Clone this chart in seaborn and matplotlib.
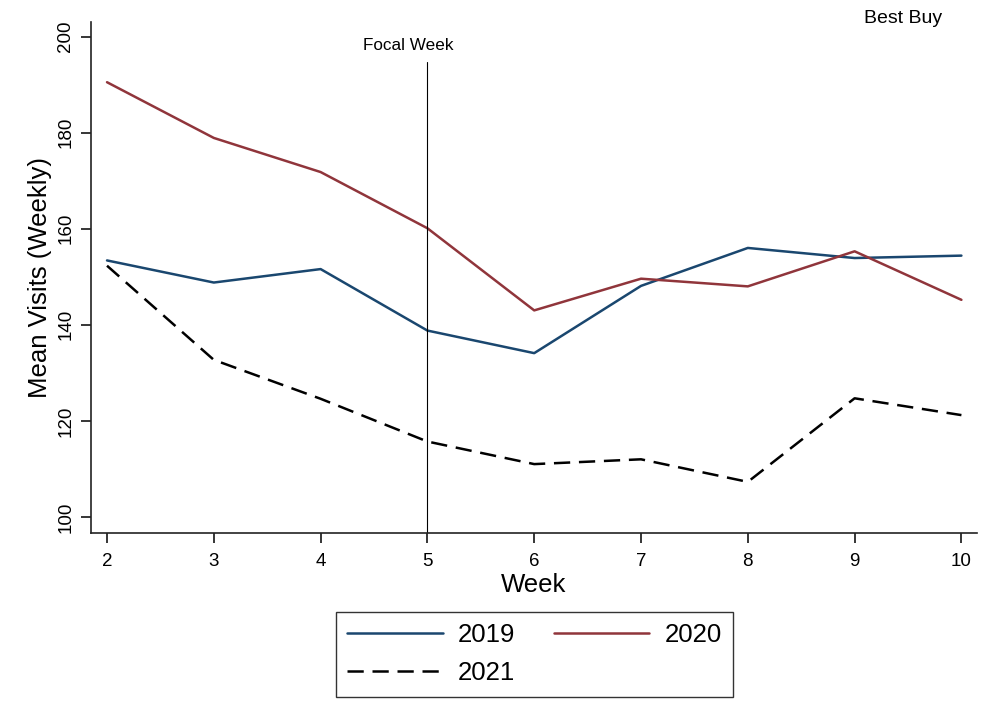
import pandas as pd
import numpy as np
import matplotlib
matplotlib.use("Agg")
import matplotlib.pyplot as plt
import seaborn as sns

# data
weeks = [2, 3, 4, 5, 6, 7, 8, 9, 10]
visits_2019 = [153.4, 148.8, 151.6, 138.8, 134.1, 148.1, 156.0, 153.9, 154.4]
visits_2020 = [190.5, 178.9, 171.8, 160.1, 143.0, 149.6, 148.0, 155.3, 145.2]
visits_2021 = [152.3, 132.7, 124.6, 115.7, 111.0, 112.0, 107.3, 124.7, 121.2]
years = ["2019", "2020", "2021"]
focal_week = 5
store = "Best Buy"

df = pd.DataFrame({
    "Week": weeks * 3,
    "Visits": visits_2019 + visits_2020 + visits_2021,
    "Year": [y for y in years for _ in weeks],
})

sns.set_theme(style="ticks")
plt.rcParams["font.family"] = ["Liberation Sans", "DejaVu Sans"]
plt.rcParams["text.color"] = "black"
plt.rcParams["axes.labelcolor"] = "black"
plt.rcParams["xtick.color"] = "black"
plt.rcParams["ytick.color"] = "black"

fig = plt.figure(figsize=(10, 7.23), dpi=100)
ax = fig.add_axes([0.091, 0.2624, 0.886, 0.7076])

palette = {"2019": "#1a476f", "2020": "#90353b", "2021": "black"}
dashes = {"2019": "", "2020": "", "2021": (6.5, 3.5)}
sns.lineplot(data=df, x="Week", y="Visits", hue="Year", style="Year",
             palette=palette, dashes=dashes, linewidth=1.8, ax=ax,
             legend=False)

ymin, ymax = 96.6, 203.1
ax.set_xlim(1.85, 10.146)
ax.set_ylim(ymin, ymax)

# focal week line
ax.plot([focal_week, focal_week], [ymin, 194.8], color="black", lw=0.8)
ax.text(focal_week - 0.18, 196.6, "Focal Week", ha="center", va="bottom",
        fontsize=12.3)

fig.text(0.903, 0.975, store, ha="center", va="center", fontsize=14)

ax.set_xticks(weeks)
ax.set_yticks([100, 120, 140, 160, 180, 200])
ax.tick_params(axis="x", labelsize=13.5, length=7, width=1.1, pad=7)
ax.tick_params(axis="y", labelsize=13.5, length=7, width=1.1, pad=5)
plt.setp(ax.get_yticklabels(), rotation=90, va="center")
ax.set_xlabel("Week", fontsize=18.5, labelpad=2)
ax.set_ylabel("Mean Visits (Weekly)", fontsize=18.5, labelpad=4)
sns.despine(ax=ax)
for s in ["left", "bottom"]:
    ax.spines[s].set_linewidth(1.2)
    ax.spines[s].set_color("#222222")

# legend in row order: 2019, 2020 / 2021
lines = ax.get_lines()
h19, h20, h21 = lines[0], lines[1], lines[2]
leg = fig.legend([h19, h21, h20], ["2019", "2021", "2020"], ncol=2,
                 loc="center", bbox_to_anchor=(0.5345, 0.095),
                 fontsize=18.5, frameon=True, fancybox=False,
                 handlelength=3.7, columnspacing=1.5, handletextpad=0.6,
                 borderpad=0.45, labelspacing=0.55)
leg.get_frame().set_edgecolor("black")
leg.get_frame().set_linewidth(1.0)

fig.savefig("out.png", dpi=100)
